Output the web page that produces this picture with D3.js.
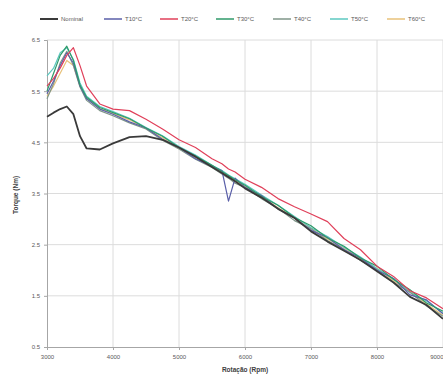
<!DOCTYPE html>
<html>
<head>
<meta charset="utf-8">
<script src="https://cdn.jsdelivr.net/npm/d3@7"></script>
<style>
  body { margin: 0; background: #fff; }
  svg { display: block; font-family: "Liberation Sans", Arial, sans-serif; }
</style>
</head>
<body>
<div id="chart"></div>
<script>
// rpm values on the x axis
const rpm = [3000, 3100, 3200, 3300, 3400, 3500, 3600, 3800, 4000, 4250, 4500, 4750, 5000, 5250, 5500,
  5650, 5750, 5850, 6000, 6250, 6500, 6750, 7000, 7250, 7500, 7750, 8000, 8250, 8500, 8750, 9000];

const nominal = [5.00, 5.08, 5.15, 5.20, 5.05, 4.62, 4.38, 4.36, 4.48, 4.60, 4.62, 4.55, 4.40,
  4.22, 4.02, 3.90, 3.82, 3.74, 3.60, 3.42, 3.20, 3.02, 2.76, 2.56, 2.38, 2.20, 1.98, 1.76, 1.48, 1.32, 1.05];
const t10 = [5.45, 5.70, 6.00, 6.25, 6.05, 5.60, 5.35, 5.15, 5.05, 4.90, 4.78, 4.56, 4.40,
  4.18, 4.03, 3.95, 3.35, 3.80, 3.62, 3.46, 3.20, 3.02, 2.78, 2.64, 2.40, 2.24, 2.00, 1.84, 1.52, 1.42, 1.15];
const t20 = [5.60, 5.75, 5.95, 6.20, 6.35, 6.00, 5.60, 5.25, 5.15, 5.12, 4.95, 4.76, 4.55,
  4.40, 4.18, 4.08, 3.98, 3.92, 3.78, 3.62, 3.40, 3.24, 3.10, 2.95, 2.62, 2.40, 2.08, 1.88, 1.60, 1.46, 1.25];
const t30 = [5.50, 5.85, 6.20, 6.38, 6.10, 5.62, 5.38, 5.18, 5.08, 4.96, 4.78, 4.62, 4.40,
  4.23, 4.05, 3.93, 3.85, 3.77, 3.66, 3.44, 3.27, 3.03, 2.87, 2.63, 2.47, 2.24, 2.08, 1.82, 1.62, 1.36, 1.20];
const t40 = [5.35, 5.65, 6.05, 6.28, 6.00, 5.58, 5.32, 5.12, 5.02, 4.88, 4.76, 4.54, 4.37,
  4.17, 4.01, 3.88, 3.80, 3.70, 3.62, 3.40, 3.21, 2.97, 2.81, 2.58, 2.41, 2.19, 2.01, 1.76, 1.57, 1.30, 1.10];
const t50 = [5.80, 5.95, 6.25, 6.35, 6.12, 5.66, 5.40, 5.20, 5.10, 4.97, 4.79, 4.63, 4.42,
  4.25, 4.05, 3.95, 3.86, 3.79, 3.68, 3.47, 3.27, 3.05, 2.83, 2.66, 2.45, 2.26, 2.03, 1.84, 1.57, 1.40, 1.16];
const t60 = [5.40, 5.60, 5.85, 6.10, 6.00, 5.60, 5.36, 5.16, 5.06, 4.94, 4.77, 4.59, 4.38,
  4.21, 4.03, 3.91, 3.83, 3.75, 3.64, 3.45, 3.22, 3.03, 2.82, 2.61, 2.44, 2.22, 2.04, 1.79, 1.58, 1.34, 1.12];

const seriesNames = ["Nominal", "T10°C", "T20°C", "T30°C", "T40°C", "T50°C", "T60°C"];
const seriesValues = [nominal, t10, t20, t30, t40, t50, t60];
const seriesColors = ["#3a3a3a", "#5a5fa8", "#e0405a", "#2f9a6a", "#7f9688", "#5cc8c0", "#e8c27a"];

const xTicks = [3000, 4000, 5000, 6000, 7000, 8000, 9000];
const yTicks = [0.5, 1.5, 2.5, 3.5, 4.5, 5.5, 6.5];

const width = 443, height = 376;
const margin = { top: 40, right: 0, bottom: 29, left: 47 };

const svg = d3.select("#chart").append("svg")
  .attr("width", width)
  .attr("height", height);

const x = d3.scaleLinear().domain([3000, 9000]).range([margin.left, width - margin.right]);
const y = d3.scaleLinear().domain([0.5, 6.5]).range([height - margin.bottom, margin.top]);

// grid
svg.append("g")
  .attr("stroke", "#dcdcdc")
  .selectAll("line")
  .data(yTicks.slice(1))
  .join("line")
  .attr("x1", margin.left).attr("x2", width)
  .attr("y1", d => y(d)).attr("y2", d => y(d));

svg.append("g")
  .attr("stroke", "#dcdcdc")
  .selectAll("line")
  .data(xTicks.slice(1))
  .join("line")
  .attr("x1", d => x(d)).attr("x2", d => x(d))
  .attr("y1", margin.top).attr("y2", height - margin.bottom);

// axes
const xAxis = svg.append("g")
  .attr("transform", `translate(0,${height - margin.bottom})`)
  .call(d3.axisBottom(x).tickValues(xTicks).tickSize(3).tickPadding(5).tickFormat(d3.format("d")));
const yAxis = svg.append("g")
  .attr("transform", `translate(${margin.left},0)`)
  .call(d3.axisLeft(y).tickValues(yTicks).tickSize(3).tickPadding(4).tickFormat(d3.format(".1f")));

[xAxis, yAxis].forEach(a => {
  a.select(".domain").attr("stroke", "#a6a6a6");
  a.selectAll(".tick line").attr("stroke", "#a6a6a6");
  a.selectAll(".tick text").attr("fill", "#595959").attr("font-size", 6);
});
// last x label sits at the right edge
xAxis.selectAll(".tick text").filter(d => d === 9000).attr("text-anchor", "end");

// lines
const line = d3.line()
  .x((d, i) => x(rpm[i]))
  .y(d => y(d));

const order = [6, 5, 4, 1, 3, 2, 0];
svg.append("g")
  .selectAll("path")
  .data(order)
  .join("path")
  .attr("fill", "none")
  .attr("stroke", i => seriesColors[i])
  .attr("stroke-width", i => i === 0 ? 1.8 : 1.2)
  .attr("stroke-linejoin", "round")
  .attr("d", i => line(seriesValues[i]));

// axis titles
svg.append("text")
  .attr("x", 245).attr("y", 372)
  .attr("text-anchor", "middle")
  .attr("font-size", 6.5).attr("font-weight", "bold").attr("fill", "#404040")
  .text("Rotação (Rpm)");

svg.append("text")
  .attr("transform", "translate(18,195) rotate(-90)")
  .attr("text-anchor", "middle")
  .attr("font-size", 6.5).attr("font-weight", "bold").attr("fill", "#404040")
  .text("Torque (Nm)");

// legend
const legendX = [40, 104, 160, 216, 273, 330, 387];
const legend = svg.append("g")
  .selectAll("g")
  .data(seriesNames)
  .join("g")
  .attr("transform", (d, i) => `translate(${legendX[i]},19)`);

legend.append("line")
  .attr("x1", 0).attr("x2", 18)
  .attr("stroke", (d, i) => seriesColors[i])
  .attr("stroke-width", (d, i) => i === 0 ? 2 : 1.5);

legend.append("text")
  .attr("x", 21).attr("dy", "0.35em")
  .attr("font-size", 6).attr("fill", "#595959")
  .text(d => d);
</script>
</body>
</html>
